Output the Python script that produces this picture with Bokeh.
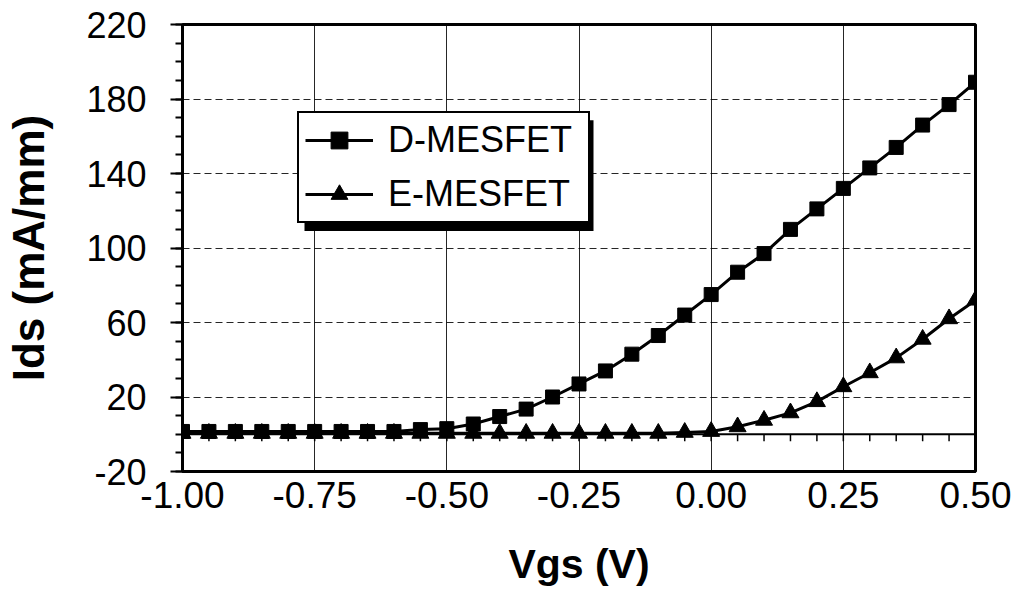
import numpy as np
from bokeh.plotting import figure
from bokeh.models import (FixedTicker, PrintfTickFormatter, Legend, LegendItem,
                          Span, BoxAnnotation, Range1d)
from bokeh.embed import file_html
from bokeh.resources import INLINE

# ---- data ----
vgs = [-1.00, -0.95, -0.90, -0.85, -0.80, -0.75, -0.70, -0.65, -0.60, -0.55,
       -0.50, -0.45, -0.40, -0.35, -0.30, -0.25, -0.20, -0.15, -0.10, -0.05,
       0.00, 0.05, 0.10, 0.15, 0.20, 0.25, 0.30, 0.35, 0.40, 0.45, 0.50]
d_mesfet = [1.5, 1.5, 1.5, 1.5, 1.5, 1.5, 1.5, 1.5, 1.5, 2.5,
            3.0, 5.5, 9.5, 13.5, 20.0, 27.0, 34.0, 43.0, 53.0, 64.0,
            75.0, 87.0, 97.0, 110.0, 121.0, 132.0, 143.0, 154.0, 166.0, 177.0, 189.0]
e_mesfet = [0.5, 0.5, 0.5, 0.5, 0.5, 0.5, 0.5, 0.5, 0.5, 0.5,
            0.5, 0.5, 0.5, 0.5, 0.5, 0.5, 0.5, 0.5, 0.5, 1.0,
            1.5, 4.0, 7.5, 11.5, 17.5, 25.5, 33.0, 41.0, 51.0, 62.0, 72.0]
x_ticks = [-1.00, -0.75, -0.50, -0.25, 0.00, 0.25, 0.50]
x_minor = [-1.00, -0.95, -0.90, -0.85, -0.80, -0.75, -0.70, -0.65, -0.60, -0.55,
           -0.50, -0.45, -0.40, -0.35, -0.30, -0.25, -0.20, -0.15, -0.10, -0.05,
           0.00, 0.05, 0.10, 0.15, 0.20, 0.25, 0.30, 0.35, 0.40, 0.45, 0.50]
y_ticks = [-20, 20, 60, 100, 140, 180, 220]
y_minor = list(range(-20, 221, 10))

X0, X1 = -1.0, 0.5
Y0, Y1 = -20, 220

# ---- layout (pixels) ----
W, H = 1020, 589
BL, BR, BT, BB = 182, 45, 24, 117
FW, FH = W - BL - BR, H - BT - BB

FONT = "Liberation Sans"

p = figure(width=W, height=H, output_backend="svg", toolbar_location=None,
           x_range=Range1d(X0, X1), y_range=Range1d(Y0, Y1),
           min_border_left=BL, min_border_right=BR, min_border_top=BT,
           min_border_bottom=BB)
p.background_fill_color = "white"
p.border_fill_color = "white"
p.outline_line_color = "black"
p.outline_line_width = 3
p.outline_line_alpha = 1.0

# grid
p.xgrid.ticker = FixedTicker(ticks=x_ticks)
p.ygrid.ticker = FixedTicker(ticks=y_ticks)
p.xgrid.grid_line_color = "black"
p.xgrid.grid_line_width = 1
p.xgrid.grid_line_alpha = 0.85
p.ygrid.grid_line_color = "black"
p.ygrid.grid_line_width = 1
p.ygrid.grid_line_alpha = 0.85
p.ygrid.grid_line_dash = "7 4"

# x axis
xa = p.xaxis[0]
xa.ticker = FixedTicker(ticks=x_ticks)
xa.formatter = PrintfTickFormatter(format="%.2f")
xa.axis_line_width = 3
xa.axis_line_color = "black"
xa.major_tick_out = 0
xa.major_tick_in = 0
xa.minor_tick_out = 0
xa.minor_tick_in = 0
xa.major_label_standoff = 10
xa.major_label_text_font = FONT
xa.major_label_text_font_size = "37px"
xa.major_label_text_color = "black"
xa.axis_label = "Vgs (V)"
xa.axis_label_text_font = FONT
xa.axis_label_text_font_style = "bold"
xa.axis_label_text_font_size = "41px"
xa.axis_label_text_color = "black"
xa.axis_label_standoff = 30

# y axis
ya = p.yaxis[0]
ya.ticker = FixedTicker(ticks=y_ticks, minor_ticks=y_minor)
ya.formatter = PrintfTickFormatter(format="%d")
ya.axis_line_width = 3
ya.axis_line_color = "black"
ya.major_tick_out = 12
ya.major_tick_in = 0
ya.major_tick_line_width = 2
ya.minor_tick_out = 7
ya.minor_tick_in = 0
ya.minor_tick_line_width = 2
ya.major_label_standoff = 24
ya.major_label_text_font = FONT
ya.major_label_text_font_size = "36px"
ya.major_label_text_color = "black"
ya.axis_label = "Ids (mA/mm)"
ya.axis_label_text_font = FONT
ya.axis_label_text_font_style = "bold"
ya.axis_label_text_font_size = "44px"
ya.axis_label_text_color = "black"
ya.axis_label_standoff = 30

# zero line with small downward ticks
p.add_layout(Span(location=0, dimension="width", line_color="black", line_width=2))
tick_len = 7 * (Y1 - Y0) / FH
p.segment(x0=x_minor, y0=[0] * len(x_minor), x1=x_minor,
          y1=[-tick_len] * len(x_minor), line_color="black", line_width=1.5)

# series
ld = p.line(vgs, d_mesfet, line_color="black", line_width=3)
le = p.line(vgs, e_mesfet, line_color="black", line_width=3)
se = p.scatter(vgs, e_mesfet, marker="triangle", size=17, fill_color="black",
               line_color="black")
sd = p.scatter(vgs, d_mesfet, marker="square", size=14, fill_color="black",
               line_color="black")

# legend with drop shadow
LEG_X, LEG_B = 297 - BL, H - BB - 224          # legend left / bottom in frame px
PAD, GW, GH, LH, SP, LS, LW = 6, 68, 42, 42, 12, 15, 194
leg_w = 2 * PAD + GW + LS + LW
leg_h = 111
sh = 7


def px2x(px):
    return X0 + px / FW * (X1 - X0)


def px2y(py):
    return Y0 + py / FH * (Y1 - Y0)


shadow = BoxAnnotation(left=px2x(LEG_X + sh), right=px2x(LEG_X + leg_w + sh),
                       bottom=px2y(LEG_B - sh), top=px2y(LEG_B + leg_h - sh),
                       fill_color="black", fill_alpha=1.0, line_color=None)
p.add_layout(shadow)

legend = Legend(items=[LegendItem(label="D-MESFET", renderers=[ld, sd]),
                       LegendItem(label="E-MESFET", renderers=[le, se])],
                location=(LEG_X, LEG_B), orientation="vertical",
                padding=PAD, spacing=SP, margin=0,
                glyph_width=GW, glyph_height=GH, label_height=LH,
                label_width=LW, label_standoff=LS,
                label_text_font=FONT, label_text_font_size="36px",
                label_text_color="black",
                border_line_color="black", border_line_width=2,
                border_line_alpha=1.0,
                background_fill_color="white", background_fill_alpha=1.0)
p.add_layout(legend, "center")

open("out.html", "w").write(file_html(p, INLINE))
